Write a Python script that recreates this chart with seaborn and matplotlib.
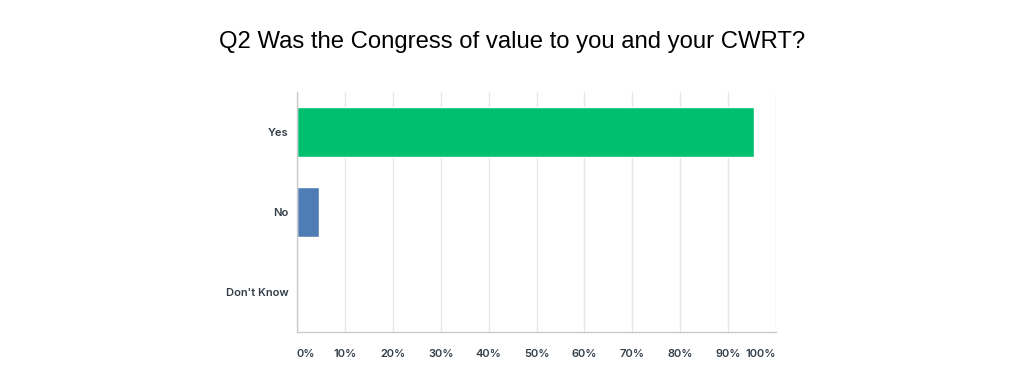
import pandas as pd
import seaborn as sns
import matplotlib.pyplot as plt
from matplotlib.ticker import PercentFormatter

# survey answers and share of respondents (%)
answers = ["Yes", "No", "Don't Know"]
shares = [95.45, 4.55, 0.0]
bar_colors = ["#00bf6f", "#507cb6", "#f7b733"]
x_ticks = [0, 10, 20, 30, 40, 50, 60, 70, 80, 90, 100]

df = pd.DataFrame({"Answer": answers, "Share": shares})

sns.set_style("white")
plt.rcParams['font.family'] = ['Inter', 'DejaVu Sans']

fig = plt.figure(figsize=(10.24, 3.85), dpi=100)
ax = fig.add_axes([0.29, 0.138, 0.468, 0.623])

sns.barplot(data=df, x="Share", y="Answer", hue="Answer", palette=bar_colors,
            order=answers, hue_order=answers, width=0.625, legend=False,
            orient="h", ax=ax, saturation=1)

ax.set_xlim(0, 100)
ax.set_ylim(2.5, -0.5)
ax.set_xticks(x_ticks)
ax.xaxis.set_major_formatter(PercentFormatter(decimals=0))
ax.grid(axis="x", color="#e6e6e6", linewidth=1)
ax.set_axisbelow(True)
ax.set_xlabel("")
ax.set_ylabel("")

for side in ["top", "right"]:
    ax.spines[side].set_visible(False)
for side in ["left", "bottom"]:
    ax.spines[side].set_color("#cccccc")
    ax.spines[side].set_linewidth(1)

ax.tick_params(axis="both", length=0, labelsize=8, labelcolor="#333e48")
ax.tick_params(axis="x", pad=12)
ax.tick_params(axis="y", pad=6)
for lbl in ax.get_xticklabels() + ax.get_yticklabels():
    lbl.set_fontweight("semibold")

# keep the end labels inside the plot width
xlabels = ax.get_xticklabels()
xlabels[0].set_horizontalalignment("left")
xlabels[-1].set_horizontalalignment("right")

fig.suptitle("Q2 Was the Congress of value to you and your CWRT?",
             x=0.5, y=0.92, fontsize=17.2, family="Liberation Sans", color="#000000")

fig.savefig("out.png", dpi=100)
